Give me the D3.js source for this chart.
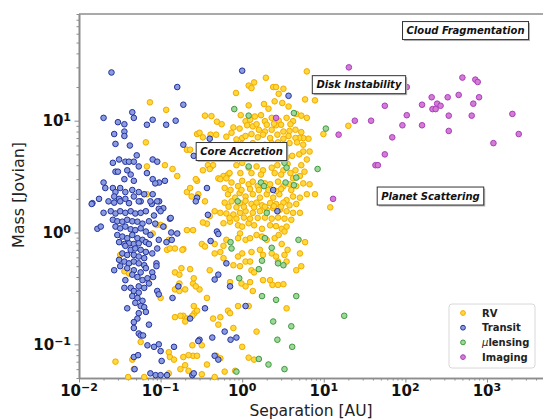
<!DOCTYPE html>
<html>
<head>
<meta charset="utf-8">
<script src="https://cdn.jsdelivr.net/npm/d3@7"></script>
<style>
  body { margin: 0; background: #fff; }
  svg { display: block; font-family: "DejaVu Sans", sans-serif; }
</style>
</head>
<body>
<div id="chart"></div>
<script>
// [separation AU, mass Jovian]
const rv = [
  [0.074,14.6],[0.117,12.5],[0.066,6.4],[0.28,7.6],[0.21,5.5],[0.23,5.5],[0.068,3.9],[0.113,4.0],[0.14,3.7],[0.16,3.2],
  [0.28,2.9],[0.21,2.3],[0.23,2.5],[0.24,2.1],[0.068,2.2],[0.29,2.2],[0.42,3.9],[0.51,3.05],[0.59,3.2],[0.67,3.3],[0.37,1.2],
  [6.2,27.6],[1.95,24.2],[1.2,20.6],[1.3,19.6],[1.4,22],[2.4,20],[2.6,20],[3.2,19.3],[0.84,17.7],[2.8,17.4],[5.9,15.5],
  [7.8,15.2],[1.2,13.7],[1.85,14.1],[2.5,14.9],[3.1,14.4],[3.7,13.4],[2.1,12.8],[4.6,11.5],[5.3,11.1],[0.35,11.1],[0.42,11],
  [0.49,9.8],[0.56,9.3],[0.96,11.2],[1.1,9.9],[1.25,10.2],[1.43,10.9],[1.7,11.2],[1.9,9.9],[2.3,10.6],[2.8,10],[3.5,10.6],
  [4.2,9.9],[6.2,10.6],[9.9,7.6],[20,9.0],[12,1.68],
  [0.78,8.7],[0.93,8.5],[1.15,9.1],[1.35,8.9],[1.6,8.3],[1.9,8.0],[2.3,8.3],[2.6,9.1],[3.2,8.0],[3.8,8.1],[4.5,8.3],[5.3,7.9],
  [6.5,6.9],[5.6,7.0],[5.0,7.0],[0.30,7.8],[0.33,7.1],[0.41,7.5],[0.48,7.5],[0.64,7.2],
  [0.74,7.8],[0.85,6.8],[1.0,7.0],[1.1,7.3],[1.3,7.6],[1.55,7.1],[1.8,7.5],[2.2,7.0],[2.7,7.5],[3.2,6.9],[3.7,7.3],[4.5,7.0],
  [0.82,6.1],[0.98,6.2],[1.15,5.9],[1.35,6.3],[1.55,6.0],[1.9,6.1],[2.3,6.3],[2.75,6.4],[3.3,6.1],[3.8,6.3],[4.7,6.4],[5.6,6.1],
  [6.7,5.3],[5.6,5.3],[5.0,5.0],[6.2,4.5],[0.38,4.0],[0.44,4.0],[0.85,4.0],[1.0,4.2],
  [1.2,3.8],[1.5,3.9],[1.8,3.6],[2.3,3.8],[2.7,4.0],[3.2,3.6],[3.6,4.1],[4.5,3.6],[5.3,4.0],[5.8,3.5],[5.1,3.2],[4.2,3.05],
  [0.33,3.6],[0.40,3.7],[0.27,3.0],
  [0.54,3.0],[0.64,3.05],[0.74,2.8],[0.61,2.5],[0.89,2.6],[1.0,2.9],[1.2,2.7],[1.35,2.85],[1.55,2.6],[1.9,2.75],[2.2,2.7],
  [2.75,2.85],[3.2,2.6],[3.8,2.7],[4.6,2.6],[5.6,2.75],[6.7,2.7],[7.8,2.2],
  [0.67,2.2],[0.82,2.05],[0.93,2.25],[1.1,2.1],[1.35,2.2],[1.65,2.05],[2.0,2.2],[2.4,2.05],[2.85,2.2],[3.5,1.95],[4.2,2.1],
  [5.1,2.05],[6.2,2.2],[0.35,1.9],
  [0.61,1.85],[0.74,1.9],[0.94,1.83],[1.1,1.92],[1.3,1.8],[1.5,1.85],[1.75,1.75],[2.2,1.83],[2.6,1.8],[3.2,1.85],[3.8,1.75],
  [4.6,1.8],[5.1,1.5],[4.2,1.5],[3.5,1.55],[2.9,1.6],[2.4,1.65],[2.0,1.6],[1.65,1.55],[1.35,1.5],[1.1,1.55],[0.94,1.5],
  [0.78,1.45],[0.64,1.48],[0.54,1.5],[0.46,1.55],[0.40,1.4],[0.33,1.23],[5.9,0.82],
  [0.59,1.21],[0.71,1.25],[0.89,1.16],[1.0,1.13],[1.2,1.21],[1.4,1.16],[1.75,1.08],[2.2,1.16],[2.6,1.14],[3.05,1.08],[3.5,1.13],
  [0.94,0.98],[0.89,0.89],[1.1,0.86],[1.25,0.89],[1.5,0.95],[1.75,0.92],[2.0,0.86],[2.5,0.89],[2.8,0.95],[3.3,1.02],[3.05,0.79],
  [3.6,0.7],[5.1,0.65],[0.64,0.86],[0.59,0.76],[0.46,0.79],[0.32,0.79],[0.35,0.75],[0.25,1.05],
  [0.46,0.65],[0.54,0.67],[0.59,0.59],[0.89,0.61],[1.0,0.65],[1.1,0.55],[1.25,0.55],[1.3,0.67],[1.65,0.7],[1.8,0.63],[2.3,0.65],
  [2.6,0.61],[3.3,0.63],[2.75,0.55],[3.5,0.55],[0.94,0.5],[4.6,0.46],[5.3,0.5],[0.40,0.46],[0.78,0.51],[1.3,0.46],[1.4,0.44],
  [0.71,0.36],[0.98,0.35],[1.1,0.33],[1.25,0.36],[1.35,0.30],[1.8,0.375],[2.2,0.375],[2.35,0.34],[2.75,0.34],[3.2,0.345],
  [0.30,0.31],[0.25,0.35],[0.37,0.26],[3.5,0.21],[0.89,0.22],[1.2,0.22],
  [0.26,0.19],[0.28,0.2],[0.44,0.17],[0.54,0.175],[0.67,0.2],[0.71,0.19],[0.51,0.15],[0.78,0.14],[1.5,0.13],[1.0,0.095],
  [0.32,0.098],[0.25,0.079],[0.28,0.079],[0.37,0.066],[0.48,0.079],[0.54,0.075],[1.2,0.076],[1.4,0.073],[0.61,0.057],
  [0.32,0.054],[0.46,0.051],[0.82,0.058],
  [0.19,0.71],[0.18,0.48],[0.23,0.47],[0.17,0.35],[0.2,0.31],[0.19,0.18],[0.21,0.17],
  [0.032,0.63],[0.036,0.45],[0.041,0.43],[0.069,0.375],[0.1,0.26],[0.12,0.7],[0.13,0.72],[0.15,0.72],[0.185,0.7],[0.126,0.86],
  [0.1,1.17],[0.11,1.13],[0.21,1.05],[0.15,0.44],[0.17,0.42],[0.255,0.39],[0.27,0.33],[0.15,0.31],[0.17,0.3],[0.15,0.175],
  [0.175,0.18],[0.2,0.16],[0.245,0.18],[0.255,0.22],[0.057,0.105],[0.126,0.085],[0.13,0.077],[0.146,0.073],[0.19,0.077],
  [0.22,0.08],[0.175,0.06],[0.2,0.065],[0.22,0.058],[0.126,0.055],[0.028,0.07],[0.045,0.073],[0.047,0.06],[0.063,0.051],
  [0.245,0.098],[0.08,0.98],[0.089,1.17],[0.04,0.051],
  // dense core
  [0.7,3.4],[0.95,3.4],[1.3,3.4],[1.7,3.3],[2.5,3.4],[3.0,3.3],[3.9,3.4],
  [0.72,2.4],[0.98,2.4],[1.25,2.45],[1.6,2.4],[2.1,2.4],[2.6,2.35],[3.0,2.45],[4.0,2.4],
  [0.68,1.7],[0.85,1.68],[1.05,1.7],[1.4,1.68],[1.9,1.7],[2.45,1.72],[3.0,1.7],
  [0.7,1.35],[0.85,1.33],[1.05,1.36],[1.25,1.33],[1.55,1.35],[1.9,1.36],[2.3,1.33],[2.75,1.36],[3.3,1.33],[4.0,1.3],
  [1.05,4.8],[1.3,4.7],[1.7,4.8],[2.1,4.75],[2.6,4.8],[3.5,4.7],[4.1,4.85],
  [1.5,9.3],[2.0,9.2],[2.45,9.4],[3.0,9.2],[3.9,9.3]
];

const transit = [
  [0.025,27],[0.16,20],[0.19,13.9],[0.02,10.6],[0.045,11.9],[0.047,10.6],[0.030,9.7],[0.036,9.3],[0.068,9.2],[0.08,10.2],
  [0.117,9.2],[0.153,10],[0.027,7.6],[0.036,8.0],[0.036,7.3],[0.028,6.2],[0.042,6.0],[0.19,6.1],[0.051,4.9],[0.026,4.2],
  [0.031,4.5],[0.037,4.3],[0.041,4.3],[0.047,4.3],[0.054,3.9],[0.08,4.5],[0.091,4.3],[0.068,3.4],[0.028,3.5],[0.030,3.5],
  [0.036,3.0],[0.043,3.3],[0.047,2.9],[0.039,3.6],[0.08,3.0],[0.096,2.8],[0.113,2.9],[0.086,2.75],[0.02,2.8],[0.021,2.5],
  [0.026,2.5],[0.028,2.3],[0.032,2.5],[0.037,2.3],[0.045,2.4],[0.054,2.3],[0.063,2.2],[0.027,2.1],[0.031,2.0],[0.037,2.0],
  [0.047,2.1],[0.057,1.9],[0.08,2.2],[0.096,1.9],[0.0146,1.83],[0.0176,2.0],[0.255,4.85],[0.28,2.05],[0.27,1.9],
  [0.078,1.8],[0.108,1.65],[0.13,1.33],[0.086,1.2],[0.108,1.13],
  [1.0,28],[3.7,16.7],[0.40,6.9],[2.4,2.4],[0.37,2.5],[0.38,1.44],[0.49,1.02],[0.51,0.97],[0.41,0.84],[0.64,0.53],[0.51,0.42],
  [0.46,0.38],[0.71,0.33],[0.35,0.21],[1.1,0.22],[0.23,0.17],[0.61,0.13],[0.30,0.11],[0.43,0.115],[0.72,0.11],[0.85,0.115],
  [0.46,0.079],[0.51,0.073],[0.245,0.053],[2.7,1.55],
  [0.0143,1.8],[0.023,1.9],[0.027,1.85],[0.032,1.9],[0.041,1.83],[0.054,1.9],[0.075,1.9],[0.091,1.9],[0.095,1.63],
  [0.020,1.5],[0.0245,1.55],[0.028,1.48],[0.032,1.55],[0.037,1.5],[0.043,1.55],[0.049,1.48],[0.057,1.5],[0.066,1.55],
  [0.083,1.42],[0.10,1.55],[0.133,1.35],
  [0.0168,1.08],[0.0185,1.13],[0.026,1.3],[0.0295,1.26],[0.034,1.25],[0.039,1.3],[0.045,1.26],[0.052,1.25],[0.060,1.2],[0.072,1.26],
  [0.028,1.13],[0.032,1.09],[0.037,1.13],[0.043,1.07],[0.049,1.05],[0.057,1.09],[0.066,1.02],[0.075,0.95],[0.16,0.98],
  [0.0295,0.95],[0.034,0.92],[0.039,0.89],[0.045,0.95],[0.052,0.89],[0.060,0.86],[0.031,0.82],[0.036,0.79],[0.041,0.8],
  [0.047,0.79],[0.054,0.8],[0.066,0.82],[0.072,0.79],[0.095,0.86],
  [0.037,0.76],[0.043,0.7],[0.049,0.72],[0.057,0.7],[0.066,0.67],[0.034,0.65],[0.039,0.63],[0.047,0.63],[0.054,0.61],
  [0.063,0.59],[0.079,0.65],[0.091,0.72],
  [0.031,0.57],[0.036,0.55],[0.041,0.53],[0.047,0.55],[0.054,0.53],[0.063,0.51],[0.027,0.46],[0.032,0.5],[0.039,0.48],
  [0.047,0.46],[0.057,0.44],[0.066,0.48],[0.089,0.53],[0.089,0.5],[0.079,0.44],
  [0.037,0.375],[0.045,0.42],[0.052,0.40],[0.060,0.375],[0.069,0.39],[0.043,0.32],[0.036,0.32],[0.054,0.33],[0.063,0.32],
  [0.072,0.35],[0.091,0.30],[0.095,0.28],
  [0.047,0.30],[0.054,0.29],[0.045,0.27],[0.052,0.26],[0.060,0.245],[0.049,0.235],[0.057,0.22],[0.063,0.215],[0.039,0.21],
  [0.066,0.195],[0.14,0.26],
  [0.054,0.19],[0.052,0.17],[0.047,0.158],[0.072,0.15],[0.047,0.14],[0.054,0.125],[0.057,0.12],[0.069,0.098],[0.083,0.095],
  [0.095,0.10],[0.10,0.087],[0.146,0.095],
  [0.047,0.077],[0.053,0.08],[0.075,0.055],[0.087,0.053],[0.10,0.053],[0.12,0.053],[0.255,0.055],[0.103,0.071],
  [0.048,0.06],[0.061,0.12],[0.165,0.33],[0.118,0.82],[0.137,0.86],[0.081,0.40],[0.135,1.0],[0.29,0.107]
];

const microlensing = [
  [0.8,12.7],[1.2,11.1],[4.3,11.7],[10.6,8.5],[8.4,3.7],[1.2,3.9],[3.3,4.2],[3.5,3.8],[4.6,3.1],[3.4,2.8],[4.3,2.65],
  [1.7,2.8],[1.85,2.6],[0.88,1.9],[2.0,1.5],[0.72,0.82],[0.74,0.72],[1.9,0.89],[2.3,0.73],[4.9,0.86],[1.75,0.56],
  [2.75,0.53],[3.2,0.51],[1.6,0.47],[0.92,0.39],[1.75,0.27],[2.6,0.25],[4.6,0.27],[2.4,0.16],[4.0,0.145],[2.7,0.11],
  [4.1,0.095],[1.6,0.074],[2.1,0.066],[0.85,0.057],[3.3,0.06],[17.8,0.18]
];

const imaging = [
  [20.3,30],[2.6,10.6],[15.2,7.5],[24,10],[38,10],[43,4.0],[46,4.0],[13,2.0],[104,20],[56,13.6],[104,11.2],[92,9.1],
  [69,7.1],[56,5.0],[160,13.9],[160,9.1],[210,16.2],[245,14.2],[270,13.6],[215,12.7],[235,12.7],[330,16.2],[340,11.1],
  [340,8.1],[450,17],[500,24.3],[680,14.2],[650,11.1],[720,23.3],[770,22.2],[800,16.2],[1200,6.3],[2050,11.5],[2450,7.6]
];

const seriesNames = ["RV", "Transit", "\u03bclensing", "Imaging"];
const seriesFill = ["#ffd83c", "#8b9be0", "#9fd69a", "#d67ad8"];
const seriesEdge = ["#f2ab00", "#23329a", "#3f9a3f", "#a640b8"];

const xTicks = [1e-2, 1e-1, 1e0, 1e1, 1e2, 1e3];
const xTickExp = ["\u22122", "\u22121", "0", "1", "2", "3"];
const yTicks = [1e-1, 1e0, 1e1];
const yTickExp = ["\u22121", "0", "1"];

const notes = ["Cloud Fragmentation", "Disk Instability", "Core Accretion", "Planet Scattering"];
const noteSep = [546, 27, 0.98, 203];
const noteMass = [64, 21, 5.3, 2.12];

const width = 543;
const height = 419;

const x = d3.scaleLog().domain([0.01, 5000]).range([79, 544]);
const y = d3.scaleLog().domain([0.05, 90]).range([378, 14]);

const svg = d3.select('#chart').append('svg').attr('width', width).attr('height', height);

// minor ticks
const minor = (lo, hi) => {
  const out = [];
  for (let e = lo; e <= hi; e++) for (let m = 2; m <= 9; m++) out.push(m * Math.pow(10, e));
  return out;
};
const xMinor = minor(-2, 3).filter(v => v <= 5000);
const yMinor = minor(-2, 1).filter(v => v >= 0.05 && v <= 90);

const grey = '#8c8c8c';

svg.append('g').attr('transform', `translate(0,${y.range()[0]})`)
  .call(d3.axisBottom(x).tickValues(xMinor).tickSize(2.5).tickFormat('').tickSizeOuter(0));
svg.append('g').attr('transform', `translate(0,${y.range()[0]})`)
  .call(d3.axisBottom(x).tickValues(xTicks).tickSize(4.5).tickFormat('').tickSizeOuter(0));
svg.append('g').attr('transform', `translate(${x.range()[0]},0)`)
  .call(d3.axisLeft(y).tickValues(yMinor).tickSize(2.5).tickFormat('').tickSizeOuter(0));
svg.append('g').attr('transform', `translate(${x.range()[0]},0)`)
  .call(d3.axisLeft(y).tickValues(yTicks).tickSize(4.5).tickFormat('').tickSizeOuter(0));
svg.append('line')
  .attr('x1', x.range()[0]).attr('x2', x.range()[1])
  .attr('y1', y.range()[1]).attr('y2', y.range()[1]);
svg.selectAll('.domain, .tick line, line').attr('stroke', grey);
svg.selectAll('.domain').attr('stroke-width', 1.6);
svg.selectAll('svg > line').attr('stroke-width', 1.6);

// tick labels 10^n
svg.append('g').selectAll('text').data(xTicks).join('text')
  .attr('x', d => x(d)).attr('y', 396)
  .attr('text-anchor', 'middle').attr('font-weight', 'bold').attr('font-size', 15).attr('fill', '#111')
  .each(function (d, i) {
    const t = d3.select(this);
    t.append('tspan').text('10');
    t.append('tspan').attr('dy', -5).attr('font-size', 11).text(xTickExp[i]);
  });
svg.append('g').selectAll('text').data(yTicks).join('text')
  .attr('x', 71).attr('y', d => y(d) + 5.5)
  .attr('text-anchor', 'end').attr('font-weight', 'bold').attr('font-size', 15).attr('fill', '#111')
  .each(function (d, i) {
    const t = d3.select(this);
    t.append('tspan').text('10');
    t.append('tspan').attr('dy', -5).attr('font-size', 11).text(yTickExp[i]);
  });

svg.append('text').attr('x', 311).attr('y', 415.5).attr('text-anchor', 'middle')
  .attr('font-size', 15.5).attr('fill', '#222').text('Separation [AU]');
svg.append('text').attr('transform', 'translate(24,195) rotate(-90)').attr('text-anchor', 'middle')
  .attr('font-size', 16).attr('fill', '#222').text('Mass [Jovian]');

// points
const plot = svg.append('g');
[rv, transit, microlensing, imaging].forEach((data, i) => {
  plot.append('g').selectAll('circle').data(data).join('circle')
    .attr('cx', d => x(d[0])).attr('cy', d => y(d[1])).attr('r', 2.8)
    .attr('fill', seriesFill[i]).attr('stroke', seriesEdge[i]).attr('stroke-width', 1);
});

// annotation boxes
notes.forEach((label, i) => {
  const g = svg.append('g').attr('transform', `translate(${x(noteSep[i])},${y(noteMass[i])})`);
  const shadow = g.append('rect').attr('fill', '#b5b5b5');
  const box = g.append('rect').attr('fill', '#fff').attr('stroke', '#333').attr('stroke-width', 1);
  const t = g.append('text').attr('text-anchor', 'middle').attr('y', 3.6)
    .attr('font-size', 10).attr('font-weight', 'bold').attr('font-style', 'italic').attr('fill', '#111').text(label);
  const bb = t.node().getBBox();
  const w = bb.width + 8, h = 18;
  box.attr('x', -w / 2).attr('y', -h / 2).attr('width', w).attr('height', h);
  shadow.attr('x', -w / 2 + 1.5).attr('y', -h / 2 + 1.5).attr('width', w).attr('height', h);
});

// legend
const legend = svg.append('g').attr('transform', 'translate(449,304)');
legend.append('rect').attr('width', 86).attr('height', 64).attr('rx', 3)
  .attr('fill', '#fff').attr('stroke', '#d8d8d8').attr('stroke-width', 1);
seriesNames.forEach((name, i) => {
  const row = legend.append('g').attr('transform', `translate(0,${9 + i * 14.7})`);
  row.append('circle').attr('cx', 14).attr('cy', 0).attr('r', 2.4)
    .attr('fill', seriesFill[i]).attr('stroke', seriesEdge[i]).attr('stroke-width', 1);
  const t = row.append('text').attr('x', 33).attr('y', 3.6).attr('font-size', 10)
    .attr('font-weight', 'bold').attr('fill', '#222');
  if (name.startsWith('\u03bc')) {
    t.append('tspan').attr('font-style', 'italic').attr('font-weight', 'normal').text('\u03bc');
    t.append('tspan').text(name.slice(1));
  } else {
    t.text(name);
  }
});
</script>
</body>
</html>
